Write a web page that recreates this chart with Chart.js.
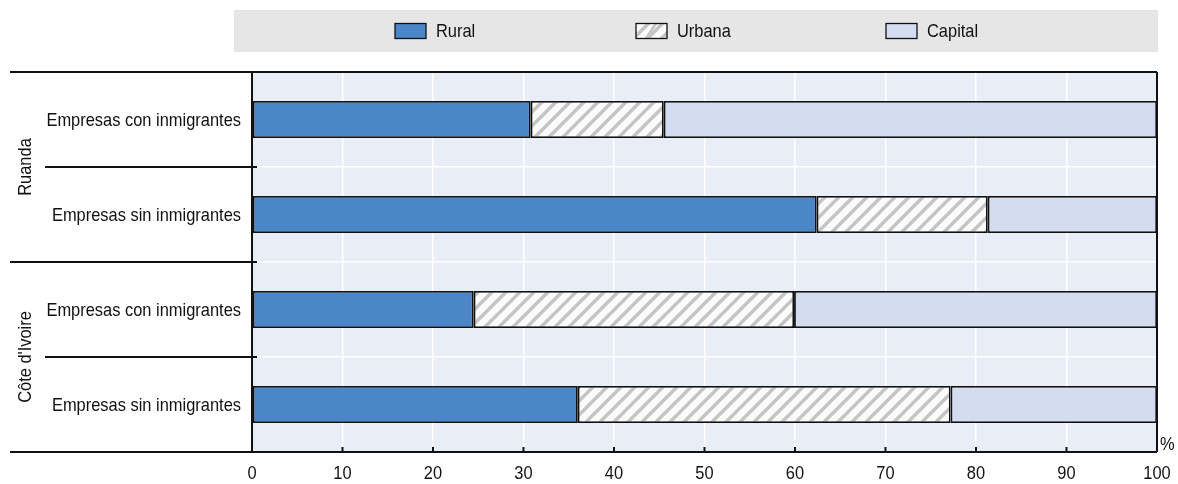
<!DOCTYPE html>
<html>
<head>
<meta charset="utf-8">
<script src="https://cdn.jsdelivr.net/npm/chart.js@4.4.1/dist/chart.umd.min.js"></script>
<style>
  html, body { margin: 0; padding: 0; background: #fff; }
  #wrap { width: 1178px; height: 484px; position: relative; }
</style>
</head>
<body>
<div id="wrap"><canvas id="c" width="1178" height="484"></canvas></div>
<script>
// ---- Data ----
const categories = ['Empresas con inmigrantes', 'Empresas sin inmigrantes', 'Empresas con inmigrantes', 'Empresas sin inmigrantes'];
const groups = ['Ruanda', "Côte d'Ivoire"];
const groupSizes = [2, 2];
const seriesNames = ['Rural', 'Urbana', 'Capital'];
const rural = [30.8, 62.4, 24.5, 36.0];
const urbana = [14.7, 18.9, 35.4, 41.2];
const capital = [54.5, 18.7, 40.1, 22.8];
const xTickValues = [0, 10, 20, 30, 40, 50, 60, 70, 80, 90, 100];
const xTickLabels = ['0', '10', '20', '30', '40', '50', '60', '70', '80', '90', '100'];
const unitLabel = '%';

// ---- Styles ----
const FONT = '"Liberation Sans", Arial, sans-serif';
const FS = 19;
const NARROW = 0.865;
const TEXT = '#111';
const LINE = '#111';

function narrowText(ctx, text, x, y, align, rot) {
  ctx.save();
  ctx.translate(x, y);
  if (rot) ctx.rotate(rot);
  ctx.scale(NARROW, 1);
  ctx.font = FS + 'px ' + FONT;
  ctx.fillStyle = TEXT;
  ctx.textAlign = align;
  ctx.textBaseline = 'middle';
  ctx.fillText(text, 0, 0);
  ctx.restore();
}
function narrowWidth(ctx, text) {
  ctx.save();
  ctx.font = FS + 'px ' + FONT;
  const w = ctx.measureText(text).width * NARROW;
  ctx.restore();
  return w;
}

function makeHatch() {
  const s = 14;
  const c = document.createElement('canvas');
  c.width = s; c.height = s;
  const g = c.getContext('2d');
  g.fillStyle = '#fbfbfb';
  g.fillRect(0, 0, s, s);
  g.strokeStyle = '#c4c4c4';
  g.lineWidth = 3.4;
  g.beginPath();
  for (let k = -1; k <= 1; k++) {
    g.moveTo(k * s - 1, s + 1);
    g.lineTo(k * s + s + 1, -1);
  }
  g.stroke();
  return g.createPattern(c, 'repeat');
}
const hatch = makeHatch();
const colors = ['#4a86c8', hatch, '#d4ddf0'];

const plotDecor = {
  id: 'plotDecor',
  beforeDraw(chart) {
    const { ctx, chartArea: a } = chart;
    ctx.save();
    ctx.fillStyle = '#e9edf6';
    ctx.fillRect(a.left, a.top, a.right - a.left, a.bottom - a.top);
    ctx.restore();
  },
  afterDraw(chart) {
    const { ctx, chartArea: a } = chart;
    const x = chart.scales.x, y = chart.scales.y;
    ctx.save();
    ctx.strokeStyle = LINE;
    ctx.lineWidth = 2;
    // frame
    ctx.beginPath();
    ctx.moveTo(10, a.top); ctx.lineTo(a.right, a.top);
    ctx.moveTo(10, a.bottom); ctx.lineTo(a.right, a.bottom);
    ctx.moveTo(a.left, a.top); ctx.lineTo(a.left, a.bottom);
    ctx.moveTo(a.right, a.top); ctx.lineTo(a.right, a.bottom);
    ctx.stroke();
    // tick marks + labels
    ctx.beginPath();
    xTickValues.forEach((v, i) => {
      const px = x.getPixelForValue(v);
      ctx.moveTo(px, a.bottom); ctx.lineTo(px, a.bottom - 5);
      narrowText(ctx, xTickLabels[i], px, a.bottom + 22, 'center');
    });
    ctx.stroke();
    // category labels
    chart.data.labels.forEach((lab, i) => {
      narrowText(ctx, lab, a.left - 11, y.getPixelForValue(i) + 1, 'right');
    });
    // separators + group labels
    let idx = 0;
    const step = y.getPixelForValue(1) - y.getPixelForValue(0);
    groups.forEach((gname, gi) => {
      const first = idx, last = idx + groupSizes[gi] - 1;
      for (let i = first; i < last; i++) {
        const py = (y.getPixelForValue(i) + y.getPixelForValue(i + 1)) / 2;
        ctx.beginPath(); ctx.moveTo(45, py); ctx.lineTo(a.left + 5, py); ctx.stroke();
      }
      if (gi < groups.length - 1) {
        const py = (y.getPixelForValue(last) + y.getPixelForValue(last + 1)) / 2;
        ctx.beginPath(); ctx.moveTo(10, py); ctx.lineTo(a.left + 5, py); ctx.stroke();
      }
      const top = y.getPixelForValue(first) - step / 2;
      const bot = y.getPixelForValue(last) + step / 2;
      narrowText(ctx, gname, 26, (top + bot) / 2, 'center', -Math.PI / 2);
      idx = last + 1;
    });
    // unit label
    narrowText(ctx, unitLabel, a.right + 3, a.bottom - 7, 'left');
    // legend
    ctx.fillStyle = '#e6e6e6';
    ctx.fillRect(234, 10, 924, 42);
    const centers = [435, 683, 932];
    chart.data.datasets.forEach((ds, i) => {
      const tw = narrowWidth(ctx, ds.label);
      const bw = 31, bh = 15, gap = 10;
      const total = bw + gap + tw;
      const x0 = Math.round(centers[i] - total / 2);
      const yc = 31;
      ctx.fillStyle = ds.backgroundColor;
      ctx.fillRect(x0, yc - bh / 2, bw, bh);
      if (i === 1) {
        ctx.strokeStyle = '#c4c4c4'; ctx.lineWidth = 2.5;
        ctx.beginPath(); ctx.moveTo(x0 + 10, yc + bh / 2); ctx.lineTo(x0 + 20, yc - bh / 2); ctx.stroke();
      }
      ctx.strokeStyle = LINE; ctx.lineWidth = 1.3;
      ctx.strokeRect(x0, yc - bh / 2, bw, bh);
      narrowText(ctx, ds.label, x0 + bw + gap, yc + 1, 'left');
    });
    ctx.restore();
  }
};

new Chart(document.getElementById('c'), {
  type: 'bar',
  data: {
    labels: categories,
    datasets: [rural, urbana, capital].map((d, i) => ({
      label: seriesNames[i],
      data: d,
      backgroundColor: colors[i],
      borderColor: LINE,
      borderWidth: 1.8,
      borderSkipped: false,
      barPercentage: 0.39,
      categoryPercentage: 1.0
    }))
  },
  options: {
    indexAxis: 'y',
    responsive: false,
    animation: false,
    devicePixelRatio: 1,
    layout: { padding: { top: 72, right: 21, left: 0, bottom: 0 } },
    plugins: { legend: { display: false }, tooltip: { enabled: false } },
    scales: {
      x: {
        stacked: true,
        min: 0, max: 100,
        afterBuildTicks: (s) => { s.ticks = xTickValues.map(v => ({ value: v })); },
        afterFit: (s) => { s.height = 32; },
        ticks: { display: false },
        grid: { color: '#ffffff', lineWidth: 1.5, drawTicks: false },
        border: { display: false }
      },
      y: {
        stacked: true,
        afterFit: (s) => { s.width = 252; },
        ticks: { display: false },
        grid: { color: '#ffffff', lineWidth: 1.5, drawTicks: false, offset: true },
        border: { display: false }
      }
    }
  },
  plugins: [plotDecor]
});
</script>
</body>
</html>
